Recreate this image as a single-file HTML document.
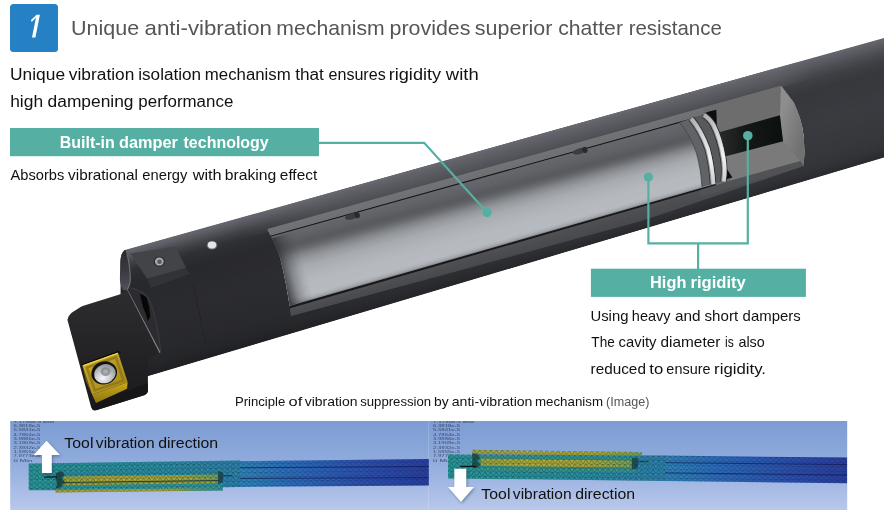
<!DOCTYPE html>
<html><head><meta charset="utf-8"><title>Anti-vibration mechanism</title>
<style>
html,body{margin:0;padding:0;background:#fff;}
body{width:884px;height:510px;overflow:hidden;font-family:"Liberation Sans",sans-serif;}
svg{display:block;will-change:transform;}
text{font-family:"Liberation Sans",sans-serif;}
</style></head><body>
<svg width="884" height="510" viewBox="0 0 884 510">
<defs>
<clipPath id="bodyclip"><path d="M884,37.5 L884,157.5 L150,375.5 L126,382.6 Q121,377.6 120.8,284 L120.8,260 Q121,252 126,249.3 Z"/></clipPath>
<clipPath id="winclip"><path d="M267.3,229 L781.0,85.8 L793.9,102.4 Q801.5,118 803.4,135 Q805,150 803.6,166 L640.0,221.6 L291.0,316.0 Q287,285 280.2,258.1 Q275,243 267.3,229 Z"/></clipPath>
</defs>
<g clip-path="url(#bodyclip)">
<polygon points="110.0,254.1 884.0,38.0 884.0,41.1 110.0,257.3" fill="#65666e"/>
<polygon points="110.0,255.3 884.0,39.1 884.0,42.2 110.0,258.5" fill="#63646c"/>
<polygon points="110.0,256.5 884.0,40.2 884.0,43.2 110.0,259.7" fill="#61626a"/>
<polygon points="110.0,257.7 884.0,41.2 884.0,44.3 110.0,260.9" fill="#5f6067"/>
<polygon points="110.0,258.9 884.0,42.3 884.0,45.4 110.0,262.1" fill="#5d5e65"/>
<polygon points="110.0,260.1 884.0,43.4 884.0,46.5 110.0,263.3" fill="#5b5c63"/>
<polygon points="110.0,261.3 884.0,44.5 884.0,47.6 110.0,264.6" fill="#595a61"/>
<polygon points="110.0,262.6 884.0,45.6 884.0,48.7 110.0,265.8" fill="#57585e"/>
<polygon points="110.0,263.8 884.0,46.7 884.0,49.7 110.0,267.0" fill="#55565c"/>
<polygon points="110.0,265.0 884.0,47.7 884.0,50.8 110.0,268.2" fill="#53545a"/>
<polygon points="110.0,266.2 884.0,48.8 884.0,51.9 110.0,269.4" fill="#505158"/>
<polygon points="110.0,267.4 884.0,49.9 884.0,53.0 110.0,270.6" fill="#4e4f55"/>
<polygon points="110.0,268.6 884.0,51.0 884.0,54.1 110.0,271.8" fill="#4c4d53"/>
<polygon points="110.0,269.8 884.0,52.1 884.0,55.1 110.0,273.0" fill="#4b4c51"/>
<polygon points="110.0,271.0 884.0,53.1 884.0,56.2 110.0,274.2" fill="#494a50"/>
<polygon points="110.0,272.2 884.0,54.2 884.0,57.3 110.0,275.4" fill="#47484e"/>
<polygon points="110.0,273.4 884.0,55.3 884.0,58.4 110.0,276.6" fill="#46474c"/>
<polygon points="110.0,274.6 884.0,56.4 884.0,59.5 110.0,277.8" fill="#44454a"/>
<polygon points="110.0,275.8 884.0,57.5 884.0,60.6 110.0,279.0" fill="#424348"/>
<polygon points="110.0,277.0 884.0,58.6 884.0,61.6 110.0,280.2" fill="#414247"/>
<polygon points="110.0,278.2 884.0,59.6 884.0,62.7 110.0,281.4" fill="#3f4045"/>
<polygon points="110.0,279.4 884.0,60.7 884.0,63.8 110.0,282.7" fill="#3f4044"/>
<polygon points="110.0,280.7 884.0,61.8 884.0,64.9 110.0,283.9" fill="#3e3f44"/>
<polygon points="110.0,281.9 884.0,62.9 884.0,66.0 110.0,285.1" fill="#3d3e43"/>
<polygon points="110.0,283.1 884.0,64.0 884.0,67.0 110.0,286.3" fill="#3c3d42"/>
<polygon points="110.0,284.3 884.0,65.0 884.0,68.1 110.0,287.5" fill="#3b3c41"/>
<polygon points="110.0,285.5 884.0,66.1 884.0,69.2 110.0,288.7" fill="#3b3c40"/>
<polygon points="110.0,286.7 884.0,67.2 884.0,70.3 110.0,289.9" fill="#3a3b3f"/>
<polygon points="110.0,287.9 884.0,68.3 884.0,71.4 110.0,291.1" fill="#393a3e"/>
<polygon points="110.0,289.1 884.0,69.4 884.0,72.5 110.0,292.3" fill="#38393d"/>
<polygon points="110.0,290.3 884.0,70.5 884.0,73.5 110.0,293.5" fill="#38393d"/>
<polygon points="110.0,291.5 884.0,71.5 884.0,74.6 110.0,294.7" fill="#38393d"/>
<polygon points="110.0,292.7 884.0,72.6 884.0,75.7 110.0,295.9" fill="#38393d"/>
<polygon points="110.0,293.9 884.0,73.7 884.0,76.8 110.0,297.1" fill="#38393e"/>
<polygon points="110.0,295.1 884.0,74.8 884.0,77.9 110.0,298.3" fill="#38393e"/>
<polygon points="110.0,296.3 884.0,75.9 884.0,78.9 110.0,299.6" fill="#38393e"/>
<polygon points="110.0,297.6 884.0,76.9 884.0,80.0 110.0,300.8" fill="#38393e"/>
<polygon points="110.0,298.8 884.0,78.0 884.0,81.1 110.0,302.0" fill="#393a3e"/>
<polygon points="110.0,300.0 884.0,79.1 884.0,82.2 110.0,303.2" fill="#393a3e"/>
<polygon points="110.0,301.2 884.0,80.2 884.0,83.3 110.0,304.4" fill="#393a3e"/>
<polygon points="110.0,302.4 884.0,81.3 884.0,84.4 110.0,305.6" fill="#393a3f"/>
<polygon points="110.0,303.6 884.0,82.4 884.0,85.4 110.0,306.8" fill="#393a3f"/>
<polygon points="110.0,304.8 884.0,83.4 884.0,86.5 110.0,308.0" fill="#393a3f"/>
<polygon points="110.0,306.0 884.0,84.5 884.0,87.6 110.0,309.2" fill="#393a3f"/>
<polygon points="110.0,307.2 884.0,85.6 884.0,88.7 110.0,310.4" fill="#393a3f"/>
<polygon points="110.0,308.4 884.0,86.7 884.0,89.8 110.0,311.6" fill="#393a3f"/>
<polygon points="110.0,309.6 884.0,87.8 884.0,90.8 110.0,312.8" fill="#393a3f"/>
<polygon points="110.0,310.8 884.0,88.8 884.0,91.9 110.0,314.0" fill="#393a3f"/>
<polygon points="110.0,312.0 884.0,89.9 884.0,93.0 110.0,315.2" fill="#3a3b40"/>
<polygon points="110.0,313.2 884.0,91.0 884.0,94.1 110.0,316.5" fill="#3a3b40"/>
<polygon points="110.0,314.5 884.0,92.1 884.0,95.2 110.0,317.7" fill="#3a3b40"/>
<polygon points="110.0,315.7 884.0,93.2 884.0,96.3 110.0,318.9" fill="#3a3b40"/>
<polygon points="110.0,316.9 884.0,94.3 884.0,97.3 110.0,320.1" fill="#3a3b40"/>
<polygon points="110.0,318.1 884.0,95.3 884.0,98.4 110.0,321.3" fill="#3a3b40"/>
<polygon points="110.0,319.3 884.0,96.4 884.0,99.5 110.0,322.5" fill="#3a3b40"/>
<polygon points="110.0,320.5 884.0,97.5 884.0,100.6 110.0,323.7" fill="#3a3b40"/>
<polygon points="110.0,321.7 884.0,98.6 884.0,101.7 110.0,324.9" fill="#3b3c41"/>
<polygon points="110.0,322.9 884.0,99.7 884.0,102.7 110.0,326.1" fill="#3b3c41"/>
<polygon points="110.0,324.1 884.0,100.7 884.0,103.8 110.0,327.3" fill="#3b3c41"/>
<polygon points="110.0,325.3 884.0,101.8 884.0,104.9 110.0,328.5" fill="#3b3c41"/>
<polygon points="110.0,326.5 884.0,102.9 884.0,106.0 110.0,329.7" fill="#3b3c41"/>
<polygon points="110.0,327.7 884.0,104.0 884.0,107.1 110.0,330.9" fill="#3b3c41"/>
<polygon points="110.0,328.9 884.0,105.1 884.0,108.2 110.0,332.1" fill="#3b3c41"/>
<polygon points="110.0,330.1 884.0,106.2 884.0,109.2 110.0,333.4" fill="#3b3c40"/>
<polygon points="110.0,331.4 884.0,107.2 884.0,110.3 110.0,334.6" fill="#3b3c40"/>
<polygon points="110.0,332.6 884.0,108.3 884.0,111.4 110.0,335.8" fill="#3a3b40"/>
<polygon points="110.0,333.8 884.0,109.4 884.0,112.5 110.0,337.0" fill="#3a3b40"/>
<polygon points="110.0,335.0 884.0,110.5 884.0,113.6 110.0,338.2" fill="#3a3b40"/>
<polygon points="110.0,336.2 884.0,111.6 884.0,114.6 110.0,339.4" fill="#3a3b40"/>
<polygon points="110.0,337.4 884.0,112.6 884.0,115.7 110.0,340.6" fill="#3a3b3f"/>
<polygon points="110.0,338.6 884.0,113.7 884.0,116.8 110.0,341.8" fill="#3a3b3f"/>
<polygon points="110.0,339.8 884.0,114.8 884.0,117.9 110.0,343.0" fill="#3a3b3f"/>
<polygon points="110.0,341.0 884.0,115.9 884.0,119.0 110.0,344.2" fill="#3a3b3f"/>
<polygon points="110.0,342.2 884.0,117.0 884.0,120.1 110.0,345.4" fill="#393a3f"/>
<polygon points="110.0,343.4 884.0,118.1 884.0,121.1 110.0,346.6" fill="#393a3e"/>
<polygon points="110.0,344.6 884.0,119.1 884.0,122.2 110.0,347.8" fill="#393a3e"/>
<polygon points="110.0,345.8 884.0,120.2 884.0,123.3 110.0,349.0" fill="#393a3e"/>
<polygon points="110.0,347.0 884.0,121.3 884.0,124.4 110.0,350.3" fill="#393a3e"/>
<polygon points="110.0,348.3 884.0,122.4 884.0,125.5 110.0,351.5" fill="#393a3e"/>
<polygon points="110.0,349.5 884.0,123.5 884.0,126.5 110.0,352.7" fill="#393a3e"/>
<polygon points="110.0,350.7 884.0,124.5 884.0,127.6 110.0,353.9" fill="#38393d"/>
<polygon points="110.0,351.9 884.0,125.6 884.0,128.7 110.0,355.1" fill="#38393d"/>
<polygon points="110.0,353.1 884.0,126.7 884.0,129.8 110.0,356.3" fill="#38393d"/>
<polygon points="110.0,354.3 884.0,127.8 884.0,130.9 110.0,357.5" fill="#38393d"/>
<polygon points="110.0,355.5 884.0,128.9 884.0,132.0 110.0,358.7" fill="#38393d"/>
<polygon points="110.0,356.7 884.0,130.0 884.0,133.0 110.0,359.9" fill="#38393d"/>
<polygon points="110.0,357.9 884.0,131.0 884.0,134.1 110.0,361.1" fill="#38393d"/>
<polygon points="110.0,359.1 884.0,132.1 884.0,135.2 110.0,362.3" fill="#37383c"/>
<polygon points="110.0,360.3 884.0,133.2 884.0,136.3 110.0,363.5" fill="#37383c"/>
<polygon points="110.0,361.5 884.0,134.3 884.0,137.4 110.0,364.7" fill="#37383c"/>
<polygon points="110.0,362.7 884.0,135.4 884.0,138.4 110.0,365.9" fill="#37383c"/>
<polygon points="110.0,363.9 884.0,136.4 884.0,139.5 110.0,367.2" fill="#37383c"/>
<polygon points="110.0,365.2 884.0,137.5 884.0,140.6 110.0,368.4" fill="#36373b"/>
<polygon points="110.0,366.4 884.0,138.6 884.0,141.7 110.0,369.6" fill="#36373b"/>
<polygon points="110.0,367.6 884.0,139.7 884.0,142.8 110.0,370.8" fill="#35363a"/>
<polygon points="110.0,368.8 884.0,140.8 884.0,143.9 110.0,372.0" fill="#35363a"/>
<polygon points="110.0,370.0 884.0,141.9 884.0,144.9 110.0,373.2" fill="#35363a"/>
<polygon points="110.0,371.2 884.0,142.9 884.0,146.0 110.0,374.4" fill="#343539"/>
<polygon points="110.0,372.4 884.0,144.0 884.0,147.1 110.0,375.6" fill="#343539"/>
<polygon points="110.0,373.6 884.0,145.1 884.0,148.2 110.0,376.8" fill="#343539"/>
<polygon points="110.0,374.8 884.0,146.2 884.0,149.3 110.0,378.0" fill="#333438"/>
<polygon points="110.0,376.0 884.0,147.3 884.0,150.3 110.0,379.2" fill="#333438"/>
<polygon points="110.0,377.2 884.0,148.3 884.0,151.4 110.0,380.4" fill="#323337"/>
<polygon points="110.0,378.4 884.0,149.4 884.0,152.5 110.0,381.6" fill="#313236"/>
<polygon points="110.0,379.6 884.0,150.5 884.0,153.6 110.0,382.8" fill="#303135"/>
<polygon points="110.0,380.8 884.0,151.6 884.0,154.7 110.0,384.0" fill="#2f3034"/>
<polygon points="110.0,382.0 884.0,152.7 884.0,155.8 110.0,385.3" fill="#2e2f33"/>
<polygon points="110.0,383.3 884.0,153.8 884.0,156.8 110.0,386.5" fill="#2d2e32"/>
<polygon points="110.0,384.5 884.0,154.8 884.0,157.9 110.0,387.7" fill="#2c2d31"/>
<polygon points="110.0,385.7 884.0,155.9 884.0,157.0 110.0,386.9" fill="#2b2c30"/>
<defs><linearGradient id="lenshade" gradientUnits="userSpaceOnUse" x1="884" y1="0" x2="120" y2="0"><stop offset="0" stop-color="#000" stop-opacity="0"/><stop offset="0.4" stop-color="#000" stop-opacity="0.04"/><stop offset="0.62" stop-color="#0a0a0c" stop-opacity="0.16"/><stop offset="0.8" stop-color="#0a0a0c" stop-opacity="0.3"/><stop offset="1" stop-color="#0a0a0c" stop-opacity="0.34"/></linearGradient></defs>
<polygon points="110.0,258.1 884.0,41.6 884.0,43.5 110.0,260.2" fill="url(#lenshade)" fill-opacity="0.06"/>
<polygon points="110.0,260.2 884.0,43.5 884.0,45.4 110.0,262.4" fill="url(#lenshade)" fill-opacity="0.19"/>
<polygon points="110.0,262.4 884.0,45.4 884.0,47.4 110.0,264.6" fill="url(#lenshade)" fill-opacity="0.31"/>
<polygon points="110.0,264.6 884.0,47.4 884.0,49.3 110.0,266.7" fill="url(#lenshade)" fill-opacity="0.44"/>
<polygon points="110.0,266.7 884.0,49.3 884.0,51.2 110.0,268.9" fill="url(#lenshade)" fill-opacity="0.56"/>
<polygon points="110.0,268.9 884.0,51.2 884.0,53.2 110.0,271.0" fill="url(#lenshade)" fill-opacity="0.69"/>
<polygon points="110.0,271.0 884.0,53.2 884.0,55.1 110.0,273.2" fill="url(#lenshade)" fill-opacity="0.81"/>
<polygon points="110.0,273.2 884.0,55.1 884.0,57.0 110.0,275.3" fill="url(#lenshade)" fill-opacity="0.94"/>
<polygon points="110.0,275.3 884.0,57.0 884.0,159.4 110.0,389.5" fill="url(#lenshade)"/>
<defs><linearGradient id="bandfade" gradientUnits="userSpaceOnUse" x1="240" y1="0" x2="815" y2="0"><stop offset="0" stop-color="#fff" stop-opacity="0"/><stop offset="0.13" stop-color="#fff" stop-opacity="0.75"/><stop offset="0.3" stop-color="#fff" stop-opacity="1"/><stop offset="0.93" stop-color="#fff" stop-opacity="1"/><stop offset="1" stop-color="#fff" stop-opacity="0"/></linearGradient><mask id="bandmask" maskUnits="userSpaceOnUse" x="230" y="40" width="600" height="240"><rect x="230" y="40" width="600" height="240" fill="url(#bandfade)"/></mask></defs>
<g mask="url(#bandmask)">
<polygon points="236.0,218.9 820.0,55.9 820.0,58.8 236.0,222.0" fill="#696a71"/>
<polygon points="236.0,220.0 820.0,56.8 820.0,59.8 236.0,223.0" fill="#67686f"/>
<polygon points="236.0,221.0 820.0,57.8 820.0,60.8 236.0,224.1" fill="#65666d"/>
<polygon points="236.0,222.1 820.0,58.8 820.0,61.7 236.0,225.1" fill="#63646b"/>
<polygon points="236.0,223.1 820.0,59.7 820.0,62.7 236.0,226.1" fill="#616269"/>
<polygon points="236.0,224.1 820.0,60.7 820.0,63.6 236.0,227.2" fill="#606168"/>
<polygon points="236.0,225.2 820.0,61.6 820.0,64.6 236.0,228.2" fill="#5f6066"/>
<polygon points="236.0,226.2 820.0,62.6 820.0,65.6 236.0,229.3" fill="#5e5e65"/>
<polygon points="236.0,227.3 820.0,63.6 820.0,66.5 236.0,230.3" fill="#5c5d64"/>
<polygon points="236.0,228.3 820.0,64.5 820.0,67.5 236.0,231.4" fill="#5b5c62"/>
<polygon points="236.0,229.4 820.0,65.5 820.0,68.4 236.0,232.4" fill="#5a5b61"/>
<polygon points="236.0,230.4 820.0,66.4 820.0,69.4 236.0,233.5" fill="#58595f"/>
<polygon points="236.0,231.5 820.0,67.4 820.0,70.4 236.0,234.5" fill="#57585e"/>
<polygon points="236.0,232.5 820.0,68.4 820.0,71.3 236.0,235.5" fill="#56575d"/>
<polygon points="236.0,233.5 820.0,69.3 820.0,72.3 236.0,236.6" fill="#54565c"/>
<polygon points="236.0,234.6 820.0,70.3 820.0,73.2 236.0,237.6" fill="#53545a"/>
<polygon points="236.0,235.6 820.0,71.2 820.0,74.2 236.0,238.7" fill="#525359"/>
<polygon points="236.0,236.7 820.0,72.2 820.0,75.2 236.0,239.7" fill="#515258"/>
<polygon points="236.0,237.7 820.0,73.2 820.0,76.1 236.0,240.8" fill="#4f5056"/>
<polygon points="236.0,238.8 820.0,74.1 820.0,75.1 236.0,239.8" fill="#4d4e53"/>
</g>
</g>
<g clip-path="url(#winclip)">
<polygon points="255.0,231.9 812.0,75.4 812.0,79.8 255.0,236.0" fill="#727376"/>
<polygon points="255.0,234.0 812.0,77.8 812.0,82.2 255.0,238.0" fill="#717275"/>
<polygon points="255.0,236.0 812.0,80.2 812.0,84.6 255.0,240.1" fill="#707174"/>
<polygon points="255.0,238.1 812.0,82.6 812.0,85.0 255.0,240.1" fill="#6f7073"/>
<polygon points="255.0,240.1 812.0,85.0 812.0,86.1 255.0,241.2" fill="#17171a"/>
<polygon points="255.0,241.2 812.0,86.1 812.0,89.6 255.0,244.2" fill="#67686d"/>
<polygon points="255.0,242.2 812.0,87.6 812.0,91.2 255.0,245.3" fill="#66676c"/>
<polygon points="255.0,243.3 812.0,89.2 812.0,92.8 255.0,246.3" fill="#65666b"/>
<polygon points="255.0,244.3 812.0,90.8 812.0,94.3 255.0,247.4" fill="#64656a"/>
<polygon points="255.0,245.4 812.0,92.3 812.0,95.9 255.0,248.4" fill="#636469"/>
<polygon points="255.0,246.4 812.0,93.9 812.0,97.5 255.0,249.5" fill="#626368"/>
<polygon points="255.0,247.5 812.0,95.5 812.0,99.0 255.0,250.5" fill="#616267"/>
<polygon points="255.0,248.5 812.0,97.0 812.0,100.6 255.0,251.6" fill="#606166"/>
<polygon points="255.0,249.6 812.0,98.6 812.0,102.2 255.0,252.6" fill="#5e5f64"/>
<polygon points="255.0,250.6 812.0,100.2 812.0,103.8 255.0,253.7" fill="#5d5e63"/>
<polygon points="255.0,251.7 812.0,101.8 812.0,105.3 255.0,254.7" fill="#5b5c61"/>
<polygon points="255.0,252.7 812.0,103.3 812.0,104.9 255.0,253.8" fill="#5a5b60"/>
<polygon points="255.0,253.8 812.0,104.9 812.0,107.9 255.0,257.0" fill="#5a5b60"/>
<polygon points="255.0,255.0 812.0,105.9 812.0,109.0 255.0,258.3" fill="#5b5c61"/>
<polygon points="255.0,256.3 812.0,107.0 812.0,110.0 255.0,259.5" fill="#5c5e62"/>
<polygon points="255.0,257.5 812.0,108.0 812.0,111.0 255.0,260.7" fill="#5f6165"/>
<polygon points="255.0,258.7 812.0,109.0 812.0,112.0 255.0,262.0" fill="#636569"/>
<polygon points="255.0,260.0 812.0,110.0 812.0,113.1 255.0,263.2" fill="#686a6e"/>
<polygon points="255.0,261.2 812.0,111.1 812.0,114.1 255.0,264.5" fill="#6c6e72"/>
<polygon points="255.0,262.5 812.0,112.1 812.0,115.1 255.0,265.7" fill="#727478"/>
<polygon points="255.0,263.7 812.0,113.1 812.0,116.1 255.0,266.9" fill="#787a7e"/>
<polygon points="255.0,264.9 812.0,114.1 812.0,117.2 255.0,268.2" fill="#7d8084"/>
<polygon points="255.0,266.2 812.0,115.2 812.0,118.2 255.0,269.4" fill="#83868a"/>
<polygon points="255.0,267.4 812.0,116.2 812.0,119.2 255.0,270.7" fill="#878a8f"/>
<polygon points="255.0,268.7 812.0,117.2 812.0,120.2 255.0,271.9" fill="#8c8f93"/>
<polygon points="255.0,269.9 812.0,118.2 812.0,121.3 255.0,273.1" fill="#909398"/>
<polygon points="255.0,271.1 812.0,119.3 812.0,122.3 255.0,274.4" fill="#95989d"/>
<polygon points="255.0,272.4 812.0,120.3 812.0,123.3 255.0,275.6" fill="#989ba0"/>
<polygon points="255.0,273.6 812.0,121.3 812.0,124.3 255.0,276.9" fill="#9b9ea3"/>
<polygon points="255.0,274.9 812.0,122.3 812.0,125.4 255.0,278.1" fill="#9ea1a6"/>
<polygon points="255.0,276.1 812.0,123.4 812.0,126.4 255.0,279.3" fill="#a0a4a9"/>
<polygon points="255.0,277.3 812.0,124.4 812.0,127.4 255.0,280.6" fill="#a3a7ac"/>
<polygon points="255.0,278.6 812.0,125.4 812.0,128.5 255.0,281.8" fill="#a6aaaf"/>
<polygon points="255.0,279.8 812.0,126.5 812.0,129.5 255.0,283.0" fill="#a8acb1"/>
<polygon points="255.0,281.0 812.0,127.5 812.0,130.5 255.0,284.3" fill="#a9adb2"/>
<polygon points="255.0,282.3 812.0,128.5 812.0,131.5 255.0,285.5" fill="#aaaeb3"/>
<polygon points="255.0,283.5 812.0,129.5 812.0,132.6 255.0,286.8" fill="#acb0b4"/>
<polygon points="255.0,284.8 812.0,130.6 812.0,133.6 255.0,288.0" fill="#adb1b6"/>
<polygon points="255.0,286.0 812.0,131.6 812.0,134.6 255.0,289.2" fill="#aeb2b7"/>
<polygon points="255.0,287.2 812.0,132.6 812.0,135.6 255.0,290.5" fill="#afb3b8"/>
<polygon points="255.0,288.5 812.0,133.6 812.0,136.7 255.0,291.7" fill="#b0b4b9"/>
<polygon points="255.0,289.7 812.0,134.7 812.0,137.7 255.0,293.0" fill="#b1b5ba"/>
<polygon points="255.0,291.0 812.0,135.7 812.0,138.7 255.0,294.2" fill="#b2b6bb"/>
<polygon points="255.0,292.2 812.0,136.7 812.0,139.7 255.0,295.4" fill="#b3b7bc"/>
<polygon points="255.0,293.4 812.0,137.7 812.0,140.8 255.0,296.7" fill="#b3b7bc"/>
<polygon points="255.0,294.7 812.0,138.8 812.0,141.8 255.0,297.9" fill="#b4b8bd"/>
<polygon points="255.0,295.9 812.0,139.8 812.0,142.8 255.0,299.2" fill="#b5b9be"/>
<polygon points="255.0,297.2 812.0,140.8 812.0,143.8 255.0,300.4" fill="#b6babf"/>
<polygon points="255.0,298.4 812.0,141.8 812.0,144.9 255.0,301.6" fill="#b6babf"/>
<polygon points="255.0,299.6 812.0,142.9 812.0,145.9 255.0,302.9" fill="#b6babf"/>
<polygon points="255.0,300.9 812.0,143.9 812.0,146.9 255.0,304.1" fill="#b6babf"/>
<polygon points="255.0,302.1 812.0,144.9 812.0,147.9 255.0,305.4" fill="#b6babf"/>
<polygon points="255.0,303.4 812.0,145.9 812.0,149.0 255.0,306.6" fill="#b6bac0"/>
<polygon points="255.0,304.6 812.0,147.0 812.0,150.0 255.0,307.8" fill="#b7bbc0"/>
<polygon points="255.0,305.8 812.0,148.0 812.0,151.0 255.0,309.1" fill="#b7bbc0"/>
<polygon points="255.0,307.1 812.0,149.0 812.0,152.0 255.0,310.3" fill="#b7bbc0"/>
<polygon points="255.0,308.3 812.0,150.0 812.0,153.1 255.0,311.6" fill="#b7bbc0"/>
<polygon points="255.0,309.6 812.0,151.1 812.0,154.1 255.0,312.8" fill="#b5b9be"/>
<polygon points="255.0,310.8 812.0,152.1 812.0,155.1 255.0,314.0" fill="#b0b4b9"/>
<polygon points="255.0,312.0 812.0,153.1 812.0,156.2 255.0,315.3" fill="#abafb4"/>
<polygon points="255.0,313.3 812.0,154.2 812.0,157.2 255.0,316.5" fill="#a1a4aa"/>
<polygon points="255.0,314.5 812.0,155.2 812.0,156.2 255.0,315.8" fill="#909498"/>
<polygon points="255.0,315.8 812.0,156.2 812.0,157.9 255.0,318.3" fill="#19191c"/>
<polygon points="255.0,318.3 812.0,157.9 812.0,163.1 255.0,322.2" fill="#4f5054"/>
<polygon points="255.0,320.2 812.0,161.1 812.0,166.3 255.0,324.2" fill="#4d4e52"/>
<polygon points="255.0,322.2 812.0,164.3 812.0,169.5 255.0,326.1" fill="#4c4c50"/>
<polygon points="255.0,324.1 812.0,167.5 812.0,172.6 255.0,328.0" fill="#4a4b4f"/>
<polygon points="255.0,326.0 812.0,170.6 812.0,173.8 255.0,328.0" fill="#48494d"/>
<polygon points="255.0,328.0 812.0,173.8 812.0,176.4 255.0,331.9" fill="#3b3c40"/>
<polygon points="255.0,329.9 812.0,174.4 812.0,176.9 255.0,333.9" fill="#3a3a3e"/>
<polygon points="255.0,331.9 812.0,174.9 812.0,177.5 255.0,335.9" fill="#38393c"/>
<polygon points="255.0,333.9 812.0,175.5 812.0,178.1 255.0,337.9" fill="#36373a"/>
<polygon points="255.0,335.9 812.0,176.1 812.0,178.7 255.0,339.9" fill="#343639"/>
<polygon points="255.0,337.9 812.0,176.7 812.0,179.2 255.0,341.9" fill="#323336"/>
<polygon points="255.0,339.9 812.0,177.2 812.0,179.8 255.0,343.8" fill="#2f3033"/>
<polygon points="255.0,341.8 812.0,177.8 812.0,178.4 255.0,343.8" fill="#2c2d30"/>
<ellipse cx="352.0" cy="216.4" rx="7.2" ry="2.9" fill="#3d3d40" transform="rotate(-15.5 352.0 216.4)"/>
<ellipse cx="357.2" cy="215.1" rx="2.6" ry="3.1" fill="#29292b" transform="rotate(-15.5 357.2 215.1)"/>
<ellipse cx="579.6" cy="151.2" rx="7.2" ry="2.9" fill="#3d3d40" transform="rotate(-15.5 579.6 151.2)"/>
<ellipse cx="584.8" cy="149.9" rx="2.6" ry="3.1" fill="#29292b" transform="rotate(-15.5 584.8 149.9)"/>
<defs><linearGradient id="endshade" gradientUnits="userSpaceOnUse" x1="277" y1="262" x2="301" y2="255"><stop offset="0" stop-color="#2a2b2f" stop-opacity="0.88"/><stop offset="0.2" stop-color="#2a2b2f" stop-opacity="0.62"/><stop offset="0.45" stop-color="#2a2b2f" stop-opacity="0.32"/><stop offset="0.75" stop-color="#2a2b2f" stop-opacity="0.1"/><stop offset="1" stop-color="#2a2b2f" stop-opacity="0"/></linearGradient></defs>
<polygon points="262.0,240.9 330.0,221.7 340.0,290.9 280.0,308.5" fill="url(#endshade)"/>
</g>
<defs><linearGradient id="capg" gradientUnits="userSpaceOnUse" x1="0" y1="252" x2="0" y2="290"><stop offset="0" stop-color="#2c2c30"/><stop offset="0.5" stop-color="#3a3b41"/><stop offset="1" stop-color="#50515a"/></linearGradient></defs>
<path d="M124.6,250 Q120.6,254 120.3,262 L119.9,280 Q120.5,287 123.6,290.2 L127.2,289.7 Q130.6,286 130.2,276 Q129.5,262 126.9,250.8 Z" fill="url(#capg)"/>
<path d="M126.3,250.6 Q129.6,262 130.3,276 Q130.7,285 127,289.7" fill="none" stroke="#6b6c70" stroke-width="1.2"/>
<polygon points="130.5,253.5 175.2,246.4 186.1,268.1 147.1,278.8" fill="#434448"/>
<polygon points="147.1,278.8 186.1,268.1 190,274 151,288" fill="#36373b" opacity="0.7"/>
<ellipse cx="159.3" cy="261.6" rx="5.6" ry="5.2" fill="#2a2a2c"/>
<ellipse cx="159.3" cy="261.6" rx="4.4" ry="4.0" fill="#a9abad"/>
<ellipse cx="159.5" cy="261.8" rx="2.4" ry="2.2" fill="#5b5c5f"/>
<ellipse cx="212" cy="245.3" rx="5.2" ry="4.3" fill="#77797c"/>
<ellipse cx="212" cy="245" rx="4.2" ry="3.4" fill="#e4e5e6"/>
<path d="M193,284 Q199,310 206,346" fill="none" stroke="#1d1d20" stroke-width="0.9" stroke-dasharray="3 1.2" opacity="0.8"/>
<path d="M127,289.7 L130.5,287.4 Q138.5,289 145.8,294.8 Q150.5,300 153.4,311 Q159,330 161,352.4 L159.6,353 Z" fill="#2c2c30"/>
<path d="M131,288 Q139,289.6 145.8,295.2 Q150.5,300.5 153.2,311 Q158.6,330 160.6,351" fill="none" stroke="#3f4044" stroke-width="1.1" opacity="0.8"/>
<path d="M139.8,294 Q144,294.6 146.6,297.4 Q149.6,306 150.4,316.5 L147.6,321 Q145.8,313 143,307 Z" fill="#070708"/>
<line x1="126.7" y1="289.7" x2="159.8" y2="352.6" stroke="#808185" stroke-width="1.7"/>
<defs><linearGradient id="headg" x1="0" y1="0" x2="0" y2="1"><stop offset="0" stop-color="#2d2d30"/><stop offset="0.55" stop-color="#232326"/><stop offset="1" stop-color="#19191b"/></linearGradient></defs>
<path d="M67.4,319.8 Q68.3,315.6 71.6,312.8 L80.6,307 Q82.6,305.9 85,305.3 L122.7,293.6 L127,289.6 L159.2,352.6 L147.9,359.4 L147.9,390 Q147.9,394 144.5,395 L96,410.3 Q92.5,411.2 91.2,407.5 Z" fill="url(#headg)"/>
<polygon points="95.1,403.3 125.5,391.6 147.9,383 147.9,392 145,395 96,410.3 92,409" fill="#161618"/>
<polygon points="80.8,364.6 118.6,350.8 121,353 84,366.6" fill="#0c0c0d"/>
<polygon points="82.4,365.3 92.1,394.5 96,402.9 85.8,381" fill="#6f5c0e"/>
<defs><linearGradient id="insside" x1="0" y1="0" x2="0" y2="1"><stop offset="0" stop-color="#c9a81c"/><stop offset="1" stop-color="#8f7610"/></linearGradient>
<linearGradient id="insg" x1="0" y1="0" x2="1" y2="1"><stop offset="0" stop-color="#e0c535"/><stop offset="0.3" stop-color="#c2a022"/><stop offset="1" stop-color="#a38818"/></linearGradient>
<radialGradient id="scr" cx="0.35" cy="0.68" r="0.85"><stop offset="0" stop-color="#f6f7f8"/><stop offset="0.4" stop-color="#c9cdd0"/><stop offset="1" stop-color="#7b8084"/></radialGradient></defs>
<polygon points="92.1,394.5 127.7,382.2 127,388.8 96,402.9" fill="url(#insside)"/>
<polygon points="82.4,365.3 118,352.4 127.7,382.2 92.1,394.5" fill="url(#insg)"/>
<polygon points="86.8,367.6 115.8,357.2 123.4,380.4 94.8,390.4" fill="none" stroke="#85701a" stroke-width="2.6" opacity="0.7"/>
<polygon points="83.2,365.8 117.6,353.4" fill="none" stroke="#ecd44a" stroke-width="1" opacity="0.9"/>
<ellipse cx="104.2" cy="372.9" rx="13" ry="11.4" fill="#121212" transform="rotate(-18 104.2 372.9)"/>
<ellipse cx="104.9" cy="373.7" rx="11" ry="9.4" fill="url(#scr)" transform="rotate(-18 104.9 373.7)"/>
<ellipse cx="105.6" cy="371.6" rx="5" ry="4.3" fill="#80868a" opacity="0.75"/>
<ellipse cx="105.6" cy="371.6" rx="2.4" ry="2" fill="#aeb3b6" opacity="0.8"/>
<g clip-path="url(#winclip)">
<polygon points="703.0,106.4 782.0,85.6 779.9,115.3 783.1,141.2 812,135 812,172 812.0,161.5 716.0,186.2" fill="#6d6d6e"/>
<polygon points="722,157 783.1,141.2 800.5,160.9 731,180.6" fill="#7a7a7b"/>
<polygon points="731,180.6 800.5,160.9 804.5,166.3 735,186.4" fill="#515255"/>
<polygon points="700,190 731,180.6 735,186.4 700,197" fill="#515255"/>
<defs><linearGradient id="endw" gradientUnits="userSpaceOnUse" x1="780" y1="120" x2="806" y2="128"><stop offset="0" stop-color="#8d8d8e"/><stop offset="1" stop-color="#717172"/></linearGradient></defs>
<path d="M781,84 L812,84 L812,172 L804.6,168 L800.5,160.9 L783.1,141.2 L779.9,115.3 Z" fill="url(#endw)"/>
<defs><linearGradient id="rodg" x1="0" y1="0" x2="1" y2="0"><stop offset="0" stop-color="#2b2f2e"/><stop offset="0.45" stop-color="#141917"/><stop offset="1" stop-color="#0b100e"/></linearGradient></defs>
<polygon points="714,133.8 779.9,115.3 783.1,141.2 722,157.2" fill="url(#rodg)"/>
<polygon points="706.3,112.3 716.3,109.8 717,129 712,124" fill="#0d0d0e"/>
<polygon points="724.3,165 732.4,177.4 721.4,180.6 722.5,170" fill="#0d0d0e"/>
<defs><linearGradient id="ringg" gradientUnits="userSpaceOnUse" x1="700" y1="114" x2="715" y2="184"><stop offset="0" stop-color="#a9abad"/><stop offset="0.3" stop-color="#d2d4d6"/><stop offset="0.65" stop-color="#f2f3f4"/><stop offset="1" stop-color="#c9cbcd"/></linearGradient></defs>
<path d="M679.5,122.5 Q690,134 696.5,153 Q701,169 702,187 L713,184 Q712,166 707.5,148.8 Q701,130.5 691,118.5 Z" fill="#626367"/>
<path d="M679.5,122.5 Q690,134 696.5,153 Q701,169 702,187" fill="none" stroke="#47484c" stroke-width="1.1" opacity="0.8"/>
<path d="M691,118.5 Q701,130.5 707.5,148.8 Q712,166 713,184 L723.4,181.5 Q725.2,169 723,157 Q720,139 713.2,125 Q709,118 703.6,115 Z" fill="#58595c"/>
<path d="M691,118.5 Q701,130.5 707.5,148.8 Q712,166 713,184" fill="none" stroke="#2c2c2e" stroke-width="6.4"/>
<path d="M691,118.5 Q701,130.5 707.5,148.8 Q712,166 713,184" fill="none" stroke="#8f9193" stroke-width="4.8"/>
<path d="M691,118.5 Q701,130.5 707.5,148.8 Q712,166 713,184" fill="none" stroke="url(#ringg)" stroke-width="3.6" transform="translate(0.5,0.1)"/>
<path d="M703.6,115 Q709,118 713.2,125 Q720,139 723,157 Q725.2,169 723.4,181.5" fill="none" stroke="#2c2c2e" stroke-width="6.4"/>
<path d="M703.6,115 Q709,118 713.2,125 Q720,139 723,157 Q725.2,169 723.4,181.5" fill="none" stroke="#8f9193" stroke-width="4.8"/>
<path d="M703.6,115 Q709,118 713.2,125 Q720,139 723,157 Q725.2,169 723.4,181.5" fill="none" stroke="url(#ringg)" stroke-width="3.6" transform="translate(0.5,0.1)"/>
</g>
<defs>
<linearGradient id="sky" x1="0" y1="0" x2="0" y2="1"><stop offset="0" stop-color="#7c9cd3"/><stop offset="0.45" stop-color="#90abdc"/><stop offset="1" stop-color="#b9c8eb"/></linearGradient>
<linearGradient id="bar1" x1="0" y1="0" x2="1" y2="0"><stop offset="0" stop-color="#2f86b8"/><stop offset="0.3" stop-color="#2c6cba"/><stop offset="0.68" stop-color="#2b50ae"/><stop offset="1" stop-color="#2a3f9f"/></linearGradient>
<linearGradient id="teal1" x1="0" y1="0" x2="1" y2="0"><stop offset="0" stop-color="#2b9ea1"/><stop offset="0.6" stop-color="#2c95a8"/><stop offset="1" stop-color="#2f86b8"/></linearGradient>
<linearGradient id="yel1" x1="0" y1="0" x2="1" y2="0"><stop offset="0" stop-color="#a8ab3c"/><stop offset="0.3" stop-color="#bdb136"/><stop offset="0.75" stop-color="#b2ae3a"/><stop offset="1" stop-color="#7fa95c"/></linearGradient>
<pattern id="mesh" width="5.6" height="4.4" patternUnits="userSpaceOnUse" patternTransform="rotate(-0.7)"><path d="M0,4.4 L2.8,0 L5.6,4.4 M0,0 L5.6,0" stroke="#0b1640" stroke-width="0.6" fill="none" opacity="0.5"/></pattern>
<pattern id="mesh2" width="5.6" height="4.4" patternUnits="userSpaceOnUse" patternTransform="rotate(-0.75)"><path d="M0,4.4 L2.8,0 L5.6,4.4 M0,0 L5.6,0" stroke="#0a2a2c" stroke-width="0.65" fill="none" opacity="0.6"/><path d="M0,4.4 L2.8,0 L5.6,4.4 Z" fill="#0a2a2c" opacity="0.10"/></pattern>
<pattern id="mesh3" width="5.6" height="4.4" patternUnits="userSpaceOnUse" patternTransform="rotate(0.6)"><path d="M0,4.4 L2.8,0 L5.6,4.4 M0,0 L5.6,0" stroke="#0a2a2c" stroke-width="0.65" fill="none" opacity="0.6"/><path d="M0,4.4 L2.8,0 L5.6,4.4 Z" fill="#0a2a2c" opacity="0.10"/></pattern>
<pattern id="mesh4" width="5.6" height="4.4" patternUnits="userSpaceOnUse" patternTransform="rotate(0.6)"><path d="M0,4.4 L2.8,0 L5.6,4.4 M0,0 L5.6,0" stroke="#0b1640" stroke-width="0.6" fill="none" opacity="0.5"/></pattern>
<filter id="ashadow" x="-30%" y="-30%" width="160%" height="160%"><feGaussianBlur stdDeviation="1.6"/></filter>
</defs>
<rect x="10.2" y="421" width="418.6" height="89" fill="url(#sky)"/>
<rect x="428.8" y="421" width="418.4" height="89" fill="url(#sky)"/>
<g clip-path="url(#femclip)">
<clipPath id="femclip"><rect x="10.2" y="421" width="837" height="89"/></clipPath>
<text x="13.4" y="422.6" font-size="4.2" fill="#1f2840" opacity="0.75" textLength="41.0" lengthAdjust="spacingAndGlyphs">7.1796e-5 Max</text>
<text x="13.4" y="426.9" font-size="4.2" fill="#1f2840" opacity="0.75" textLength="27.0" lengthAdjust="spacingAndGlyphs">6.3818e-5</text>
<text x="13.4" y="431.3" font-size="4.2" fill="#1f2840" opacity="0.75" textLength="27.0" lengthAdjust="spacingAndGlyphs">5.5841e-5</text>
<text x="13.4" y="435.6" font-size="4.2" fill="#1f2840" opacity="0.75" textLength="27.0" lengthAdjust="spacingAndGlyphs">4.7864e-5</text>
<text x="13.4" y="439.9" font-size="4.2" fill="#1f2840" opacity="0.75" textLength="27.0" lengthAdjust="spacingAndGlyphs">3.9886e-5</text>
<text x="13.4" y="444.2" font-size="4.2" fill="#1f2840" opacity="0.75" textLength="27.0" lengthAdjust="spacingAndGlyphs">3.1909e-5</text>
<text x="13.4" y="448.6" font-size="4.2" fill="#1f2840" opacity="0.75" textLength="27.0" lengthAdjust="spacingAndGlyphs">2.3932e-5</text>
<text x="13.4" y="452.9" font-size="4.2" fill="#1f2840" opacity="0.75" textLength="27.0" lengthAdjust="spacingAndGlyphs">1.5955e-5</text>
<text x="13.4" y="457.2" font-size="4.2" fill="#1f2840" opacity="0.75" textLength="27.0" lengthAdjust="spacingAndGlyphs">7.9773e-6</text>
<text x="13.4" y="461.6" font-size="4.2" fill="#1f2840" opacity="0.75" textLength="19.0" lengthAdjust="spacingAndGlyphs">0 Min</text>
<text x="433.0" y="422.6" font-size="4.2" fill="#1f2840" opacity="0.75" textLength="41.0" lengthAdjust="spacingAndGlyphs">7.1796e-5 Max</text>
<text x="433.0" y="426.9" font-size="4.2" fill="#1f2840" opacity="0.75" textLength="27.0" lengthAdjust="spacingAndGlyphs">6.3818e-5</text>
<text x="433.0" y="431.3" font-size="4.2" fill="#1f2840" opacity="0.75" textLength="27.0" lengthAdjust="spacingAndGlyphs">5.5841e-5</text>
<text x="433.0" y="435.6" font-size="4.2" fill="#1f2840" opacity="0.75" textLength="27.0" lengthAdjust="spacingAndGlyphs">4.7864e-5</text>
<text x="433.0" y="439.9" font-size="4.2" fill="#1f2840" opacity="0.75" textLength="27.0" lengthAdjust="spacingAndGlyphs">3.9886e-5</text>
<text x="433.0" y="444.2" font-size="4.2" fill="#1f2840" opacity="0.75" textLength="27.0" lengthAdjust="spacingAndGlyphs">3.1909e-5</text>
<text x="433.0" y="448.6" font-size="4.2" fill="#1f2840" opacity="0.75" textLength="27.0" lengthAdjust="spacingAndGlyphs">2.3932e-5</text>
<text x="433.0" y="452.9" font-size="4.2" fill="#1f2840" opacity="0.75" textLength="27.0" lengthAdjust="spacingAndGlyphs">1.5955e-5</text>
<text x="433.0" y="457.2" font-size="4.2" fill="#1f2840" opacity="0.75" textLength="27.0" lengthAdjust="spacingAndGlyphs">7.9773e-6</text>
<text x="433.0" y="461.6" font-size="4.2" fill="#1f2840" opacity="0.75" textLength="19.0" lengthAdjust="spacingAndGlyphs">0 Min</text>
<polygon points="239,461.1 428.8,459 428.8,485.6 239,486.9" fill="url(#bar1)"/>
<polygon points="239,461.1 428.8,459 428.8,485.6 239,486.9" fill="url(#mesh)"/>
<polyline points="215,467.8 428.8,466.6" stroke="#101c50" stroke-width="0.9" fill="none" opacity="0.8"/>
<polyline points="215,478.6 428.8,477.6" stroke="#101c50" stroke-width="0.9" fill="none" opacity="0.8"/>
<polygon points="28.7,463.4 240,460.6 240,487 222.8,487.3 222.8,490 28.7,490.2" fill="url(#teal1)"/>
<polygon points="56,471.6 240,469.2 240,474.2 56,476.6" fill="#2f8fae" opacity="0.55"/>
<polygon points="63.6,476.6 218,474.6 218,480.2 63.6,482.2" fill="url(#yel1)"/>
<polygon points="61,482.8 218,480.8 218,483.6 61,485.6" fill="#a4a83e"/>
<polygon points="56,485.6 222.8,483.6 222.8,488 56,490" fill="#33a0a6"/>
<defs><linearGradient id="yel1b" x1="0" y1="0" x2="1" y2="0"><stop offset="0" stop-color="#b3ac3a"/><stop offset="0.3" stop-color="#c0b335"/><stop offset="0.72" stop-color="#b2ae3a"/><stop offset="0.84" stop-color="#5cab7c"/><stop offset="1" stop-color="#2f98a8"/></linearGradient></defs>
<polygon points="55.5,490 222.8,488 222.8,490.6 55.5,492.6" fill="url(#yel1b)"/>
<polygon points="28.7,463.4 240,460.6 240,487 222.8,487.3 222.8,490.6 55.5,492.6 55.5,490.2 28.7,490.2" fill="url(#mesh2)"/>
<polyline points="63.6,482.5 218,480.5" stroke="#1c2a14" stroke-width="0.9" fill="none" opacity="0.8"/>
<path d="M56,473 l6,-2 l2.5,4 l-3,3 l3.5,4 l-3.5,5 l-6,2 l1.5,-6 l-1.5,-4 z" fill="#13201c" opacity="0.6"/>
<path d="M218,471 l4,1 l1.5,3 l9,0 l0,1.2 l-9,0 l-1,6 l-4.5,2 z" fill="#13201c" opacity="0.55"/>
<line x1="44.3" y1="477.1" x2="57" y2="476.9" stroke="#0c1416" stroke-width="1.3"/>
<polygon points="46.6,440.8 60,455 51.8,455 51.8,473 41.9,473 41.9,455 33.6,455" fill="#2a3a5a" opacity="0.45" filter="url(#ashadow)" transform="translate(1,1.5)"/>
<polygon points="46.6,440.8 60,455 51.8,455 51.8,473 41.9,473 41.9,455 33.6,455" fill="#ffffff"/>
<text x="64.38" y="447.8" font-size="15.40" fill="#111" font-weight="normal" textLength="29.02" lengthAdjust="spacingAndGlyphs">Tool</text>
<text x="95.89" y="447.8" font-size="15.40" fill="#111" font-weight="normal" textLength="58.75" lengthAdjust="spacingAndGlyphs">vibration</text>
<text x="158.20" y="447.8" font-size="15.40" fill="#111" font-weight="normal" textLength="59.96" lengthAdjust="spacingAndGlyphs">direction</text>
<polygon points="664,455.6 847.2,457.6 847.2,483.2 664,481" fill="url(#bar1)"/>
<polygon points="664,455.6 847.2,457.6 847.2,483.2 664,481" fill="url(#mesh4)"/>
<polyline points="660,462.6 847.2,464.6" stroke="#101c50" stroke-width="0.9" fill="none" opacity="0.8"/>
<polyline points="660,472.8 847.2,475" stroke="#101c50" stroke-width="0.9" fill="none" opacity="0.8"/>
<polygon points="448,454.6 665,455.6 665,481 448,478.4" fill="url(#teal1)"/>
<polygon points="472.5,449.9 642,452.3 642,456 472.5,453.7" fill="url(#yel1)"/>
<polygon points="478,456 636,458 636,461 478,459" fill="#3a9c88"/>
<polygon points="480.7,458.6 631.4,460.6 631.4,467.6 480.7,465.8" fill="url(#yel1)"/>
<polygon points="476,466.6 636,468.6 636,472.6 476,470.6" fill="#3a9c92"/>
<polygon points="448,454.6 472.5,454.8 472.5,449.8 642,452 642,455.4 665,455.6 665,481 448,478.4" fill="url(#mesh3)"/>
<path d="M472,453 l6,1 l2,4 l-3,3 l3.5,4 l-4,3.5 l-5,-1.5 l1,-6 z" fill="#13201c" opacity="0.55"/>
<path d="M632,458 l5,-0.5 l1.5,3.5 l10,0 l0,1.2 l-10,0 l-1,6 l-5.5,1.5 z" fill="#13201c" opacity="0.55"/>
<line x1="460" y1="466.4" x2="476" y2="466.4" stroke="#0c1416" stroke-width="1.4"/>
<polygon points="461,502 448,487 454.3,487 454.3,468.8 466.3,468.8 466.3,487 474,487" fill="#2a3a5a" opacity="0.45" filter="url(#ashadow)" transform="translate(1,1.5)"/>
<polygon points="461,502 448,487 454.3,487 454.3,468.8 466.3,468.8 466.3,487 474,487" fill="#ffffff"/>
<text x="481.38" y="498.6" font-size="15.40" fill="#111" font-weight="normal" textLength="29.02" lengthAdjust="spacingAndGlyphs">Tool</text>
<text x="512.89" y="498.6" font-size="15.40" fill="#111" font-weight="normal" textLength="58.75" lengthAdjust="spacingAndGlyphs">vibration</text>
<text x="575.20" y="498.6" font-size="15.40" fill="#111" font-weight="normal" textLength="59.96" lengthAdjust="spacingAndGlyphs">direction</text>
</g>
<rect x="10" y="4" width="48" height="48" rx="3.5" ry="3.5" fill="#2581c4"/>
<path d="M31,20 L36.6,14.7 L39.9,14.7 L35.4,37.6 L32,37.6 L36.0,17.6 L31.7,21.9 Z" fill="#fff"/>
<text x="71.00" y="34.9" font-size="20.80" fill="#555" font-weight="normal" textLength="68.10" lengthAdjust="spacingAndGlyphs">Unique</text>
<text x="144.64" y="34.9" font-size="20.80" fill="#555" font-weight="normal" textLength="127.38" lengthAdjust="spacingAndGlyphs">anti-vibration</text>
<text x="276.39" y="34.9" font-size="20.80" fill="#555" font-weight="normal" textLength="108.31" lengthAdjust="spacingAndGlyphs">mechanism</text>
<text x="389.60" y="34.9" font-size="20.80" fill="#555" font-weight="normal" textLength="80.88" lengthAdjust="spacingAndGlyphs">provides</text>
<text x="474.78" y="34.9" font-size="20.80" fill="#555" font-weight="normal" textLength="77.74" lengthAdjust="spacingAndGlyphs">superior</text>
<text x="558.18" y="34.9" font-size="20.80" fill="#555" font-weight="normal" textLength="64.80" lengthAdjust="spacingAndGlyphs">chatter</text>
<text x="628.66" y="34.9" font-size="20.80" fill="#555" font-weight="normal" textLength="93.14" lengthAdjust="spacingAndGlyphs">resistance</text>
<text x="10.08" y="79.9" font-size="15.60" fill="#111" font-weight="normal" textLength="54.96" lengthAdjust="spacingAndGlyphs">Unique</text>
<text x="68.86" y="79.9" font-size="15.60" fill="#111" font-weight="normal" textLength="65.48" lengthAdjust="spacingAndGlyphs">vibration</text>
<text x="138.23" y="79.9" font-size="15.60" fill="#111" font-weight="normal" textLength="62.92" lengthAdjust="spacingAndGlyphs">isolation</text>
<text x="204.84" y="79.9" font-size="15.60" fill="#111" font-weight="normal" textLength="85.89" lengthAdjust="spacingAndGlyphs">mechanism</text>
<text x="295.17" y="79.9" font-size="15.60" fill="#111" font-weight="normal" textLength="28.75" lengthAdjust="spacingAndGlyphs">that</text>
<text x="328.49" y="79.9" font-size="15.60" fill="#111" font-weight="normal" textLength="57.24" lengthAdjust="spacingAndGlyphs">ensures</text>
<text x="388.71" y="79.9" font-size="15.60" fill="#111" font-weight="normal" textLength="52.42" lengthAdjust="spacingAndGlyphs">rigidity</text>
<text x="445.87" y="79.9" font-size="15.60" fill="#111" font-weight="normal" textLength="32.80" lengthAdjust="spacingAndGlyphs">with</text>
<text x="10.20" y="106.5" font-size="15.60" fill="#111" font-weight="normal" textLength="32.90" lengthAdjust="spacingAndGlyphs">high</text>
<text x="47.60" y="106.5" font-size="15.60" fill="#111" font-weight="normal" textLength="85.94" lengthAdjust="spacingAndGlyphs">dampening</text>
<text x="138.36" y="106.5" font-size="15.60" fill="#111" font-weight="normal" textLength="94.94" lengthAdjust="spacingAndGlyphs">performance</text>
<rect x="10" y="128" width="309" height="28.2" fill="#55b0a3"/>
<text x="59.69" y="147.8" font-size="16.20" fill="#fff" font-weight="bold" textLength="55.14" lengthAdjust="spacingAndGlyphs">Built-in</text>
<text x="118.96" y="147.8" font-size="16.20" fill="#fff" font-weight="bold" textLength="58.88" lengthAdjust="spacingAndGlyphs">damper</text>
<text x="183.54" y="147.8" font-size="16.20" fill="#fff" font-weight="bold" textLength="85.23" lengthAdjust="spacingAndGlyphs">technology</text>
<text x="10.59" y="179.9" font-size="14.20" fill="#111" font-weight="normal" textLength="53.68" lengthAdjust="spacingAndGlyphs">Absorbs</text>
<text x="68.12" y="179.9" font-size="14.20" fill="#111" font-weight="normal" textLength="69.85" lengthAdjust="spacingAndGlyphs">vibrational</text>
<text x="142.35" y="179.9" font-size="14.20" fill="#111" font-weight="normal" textLength="45.02" lengthAdjust="spacingAndGlyphs">energy</text>
<text x="192.67" y="179.9" font-size="14.20" fill="#111" font-weight="normal" textLength="29.05" lengthAdjust="spacingAndGlyphs">with</text>
<text x="224.68" y="179.9" font-size="14.20" fill="#111" font-weight="normal" textLength="51.54" lengthAdjust="spacingAndGlyphs">braking</text>
<text x="279.84" y="179.9" font-size="14.20" fill="#111" font-weight="normal" textLength="37.34" lengthAdjust="spacingAndGlyphs">effect</text>
<polyline points="319,142.8 424.2,142.8 487.1,212.5" fill="none" stroke="#55b0a3" stroke-width="2.2"/>
<circle cx="487.1" cy="212.5" r="4.6" fill="#55b0a3"/>
<polyline points="648.4,177 648.4,243.4 747.8,243.4 747.8,135.7" fill="none" stroke="#55b0a3" stroke-width="2.2"/>
<line x1="698.1" y1="243.4" x2="698.1" y2="269" stroke="#55b0a3" stroke-width="2.2"/>
<circle cx="648.4" cy="177" r="4.6" fill="#55b0a3"/>
<circle cx="747.8" cy="135.7" r="4.8" fill="#55b0a3"/>
<rect x="590.9" y="268.7" width="215" height="28.2" fill="#55b0a3"/>
<text x="650.09" y="288.2" font-size="16.20" fill="#fff" font-weight="bold" textLength="36.29" lengthAdjust="spacingAndGlyphs">High</text>
<text x="690.45" y="288.2" font-size="16.20" fill="#fff" font-weight="bold" textLength="55.42" lengthAdjust="spacingAndGlyphs">rigidity</text>
<text x="590.46" y="320.8" font-size="14.30" fill="#111" font-weight="normal" textLength="37.97" lengthAdjust="spacingAndGlyphs">Using</text>
<text x="631.87" y="320.8" font-size="14.30" fill="#111" font-weight="normal" textLength="38.71" lengthAdjust="spacingAndGlyphs">heavy</text>
<text x="675.03" y="320.8" font-size="14.30" fill="#111" font-weight="normal" textLength="25.61" lengthAdjust="spacingAndGlyphs">and</text>
<text x="704.59" y="320.8" font-size="14.30" fill="#111" font-weight="normal" textLength="33.57" lengthAdjust="spacingAndGlyphs">short</text>
<text x="742.62" y="320.8" font-size="14.30" fill="#111" font-weight="normal" textLength="58.04" lengthAdjust="spacingAndGlyphs">dampers</text>
<text x="591.36" y="347.1" font-size="14.30" fill="#111" font-weight="normal" textLength="23.38" lengthAdjust="spacingAndGlyphs">The</text>
<text x="618.64" y="347.1" font-size="14.30" fill="#111" font-weight="normal" textLength="37.82" lengthAdjust="spacingAndGlyphs">cavity</text>
<text x="660.54" y="347.1" font-size="14.30" fill="#111" font-weight="normal" textLength="59.83" lengthAdjust="spacingAndGlyphs">diameter</text>
<text x="725.03" y="347.1" font-size="14.30" fill="#111" font-weight="normal" textLength="8.72" lengthAdjust="spacingAndGlyphs">is</text>
<text x="738.40" y="347.1" font-size="14.30" fill="#111" font-weight="normal" textLength="26.40" lengthAdjust="spacingAndGlyphs">also</text>
<text x="590.58" y="373.7" font-size="14.30" fill="#111" font-weight="normal" textLength="55.33" lengthAdjust="spacingAndGlyphs">reduced</text>
<text x="649.28" y="373.7" font-size="14.30" fill="#111" font-weight="normal" textLength="13.94" lengthAdjust="spacingAndGlyphs">to</text>
<text x="666.39" y="373.7" font-size="14.30" fill="#111" font-weight="normal" textLength="44.13" lengthAdjust="spacingAndGlyphs">ensure</text>
<text x="714.09" y="373.7" font-size="14.30" fill="#111" font-weight="normal" textLength="51.86" lengthAdjust="spacingAndGlyphs">rigidity.</text>
<text x="234.90" y="405.7" font-size="13.00" fill="#111" font-weight="normal" textLength="50.31" lengthAdjust="spacingAndGlyphs">Principle</text>
<text x="288.60" y="405.7" font-size="13.00" fill="#111" font-weight="normal" textLength="13.69" lengthAdjust="spacingAndGlyphs">of</text>
<text x="304.81" y="405.7" font-size="13.00" fill="#111" font-weight="normal" textLength="52.68" lengthAdjust="spacingAndGlyphs">vibration</text>
<text x="360.23" y="405.7" font-size="13.00" fill="#111" font-weight="normal" textLength="70.92" lengthAdjust="spacingAndGlyphs">suppression</text>
<text x="433.99" y="405.7" font-size="13.00" fill="#111" font-weight="normal" textLength="14.63" lengthAdjust="spacingAndGlyphs">by</text>
<text x="451.72" y="405.7" font-size="13.00" fill="#111" font-weight="normal" textLength="80.75" lengthAdjust="spacingAndGlyphs">anti-vibration</text>
<text x="534.96" y="405.7" font-size="13.00" fill="#111" font-weight="normal" textLength="68.02" lengthAdjust="spacingAndGlyphs">mechanism</text>
<text x="606.04" y="405.7" font-size="13.00" fill="#555" font-weight="normal" textLength="43.35" lengthAdjust="spacingAndGlyphs">(Image)</text>
</svg>
</body></html>
